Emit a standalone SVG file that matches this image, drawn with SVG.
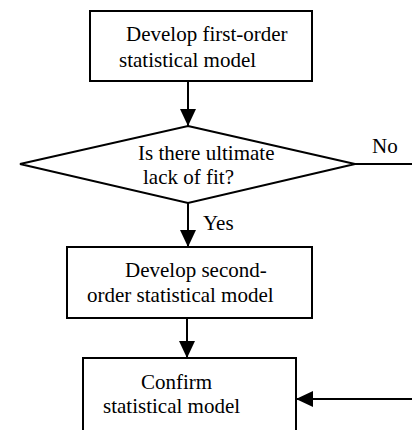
<svg xmlns="http://www.w3.org/2000/svg" width="412" height="430" viewBox="0 0 412 430">
<style>
.box{fill:#fff;stroke:#000;stroke-width:2}
.ln{fill:none;stroke:#000;stroke-width:2}
text{font-family:"Liberation Serif",Tinos,"Times New Roman","DejaVu Serif",serif;font-size:21px;fill:#000}
</style>
<defs>
<marker id="ah" markerUnits="userSpaceOnUse" markerWidth="17" markerHeight="16" refX="17" refY="8" orient="auto">
<polygon points="0,0 17,8 0,16" fill="#000"/>
</marker>
</defs>
<rect width="412" height="430" fill="#fff"/>
<g id="connectors">
<line class="ln" x1="188" y1="81" x2="188" y2="126" marker-end="url(#ah)"/>
<line class="ln" x1="188" y1="203" x2="188" y2="247" marker-end="url(#ah)"/>
<line class="ln" x1="187" y1="318" x2="187" y2="358" marker-end="url(#ah)"/>
<line class="ln" x1="355" y1="164" x2="412" y2="164"/>
<line class="ln" x1="412" y1="399" x2="296" y2="399" marker-end="url(#ah)"/>
<text x="372" y="153">No</text>
<text x="203" y="230">Yes</text>
</g>
<g id="n1">
<rect class="box" x="90" y="11" width="222" height="70"/>
<text x="126" y="41">Develop first-order</text>
<text x="119" y="67">statistical model</text>
</g>
<g id="n2">
<polygon class="box" points="188,126 355,164 188,203 20,164"/>
<text x="138" y="160">Is there ultimate</text>
<text x="143" y="184">lack of fit?</text>
</g>
<g id="n3">
<rect class="box" x="67" y="247" width="245" height="71"/>
<text x="125" y="277">Develop second-</text>
<text x="87" y="302">order statistical model</text>
</g>
<g id="n4">
<rect class="box" x="83" y="358" width="213" height="82"/>
<text x="141" y="389">Confirm</text>
<text x="103" y="413">statistical model</text>
</g>
</svg>
